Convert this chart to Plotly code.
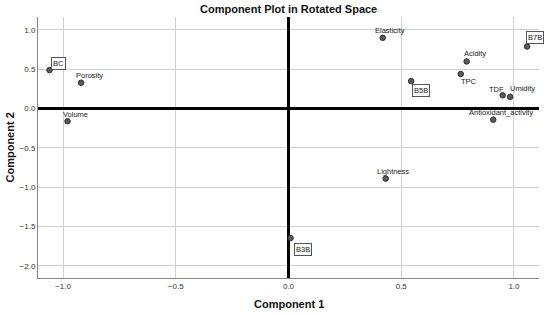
import plotly.graph_objects as go

# ---- data ----
names = ["BC", "Porosity", "Volume", "Elasticity", "B7B", "Acidity", "TPC",
         "B5B", "TDF", "Umidity", "Antioxidant_activity", "Lightness", "B3B"]
comp1 = [-1.06, -0.92, -0.98, 0.418, 1.058, 0.79, 0.764, 0.544, 0.95, 0.983, 0.908, 0.431, 0.009]
comp2 = [0.49, 0.33, -0.16, 0.90, 0.79, 0.60, 0.44, 0.35, 0.17, 0.15, -0.14, -0.89, -1.645]
is_case = [True, False, False, False, True, False, False, True, False, False, False, False, True]
tick_vals_x = [-1.0, -0.5, 0.0, 0.5, 1.0]
tick_vals_y = [1.0, 0.5, 0.0, -0.5, -1.0, -1.5, -2.0]

# label offsets in pixels (styling)
offsets = {
    "BC": (9, 7), "Porosity": (8, 7), "Volume": (8, 7), "Elasticity": (7, 7),
    "B7B": (8, 9), "Acidity": (8, 8), "TPC": (8, -7), "B5B": (10, -9),
    "TDF": (-6, 6), "Umidity": (12, 8), "Antioxidant_activity": (8, 7),
    "Lightness": (7, 7), "B3B": (12, -11),
}

FONT = "Liberation Sans, Arial, sans-serif"

fig = go.Figure()
fig.add_trace(go.Scatter(
    x=comp1, y=comp2, mode="markers",
    marker=dict(size=5.5, color="#5a5a5a", line=dict(color="#2e2e2e", width=1)),
    hoverinfo="text", text=names, showlegend=False, cliponaxis=False,
))

ann = []
for n, x, y, c in zip(names, comp1, comp2, is_case):
    dx, dy = offsets[n]
    a = dict(x=x, y=y, xref="x", yref="y", text=n, showarrow=False,
             xshift=dx, yshift=dy, font=dict(family=FONT, size=7.5, color="#222"))
    if c:
        a.update(bordercolor="#555", borderwidth=1, borderpad=1, bgcolor="white")
    ann.append(a)

# titles
ann.append(dict(text="<b>Component Plot in Rotated Space</b>", xref="paper", yref="paper",
                x=0.5, y=1.0307, xanchor="center", yanchor="middle", showarrow=False,
                font=dict(size=11, family=FONT, color="#111")))
ann.append(dict(text="<b>Component 1</b>", xref="paper", yref="paper",
                x=0.5, y=-0.0996, xanchor="center", yanchor="middle", showarrow=False,
                font=dict(size=11, family=FONT, color="#111")))
ann.append(dict(text="<b>Component 2</b>", xref="paper", yref="paper",
                x=-0.0559, y=0.5, xanchor="center", yanchor="middle", showarrow=False,
                textangle=-90, font=dict(size=11, family=FONT, color="#111")))

fig.update_layout(
    width=550, height=315,
    margin=dict(l=38, r=11, t=17, b=37, autoexpand=False),
    paper_bgcolor="white", plot_bgcolor="white",
    font=dict(family=FONT, color="#222"),
    annotations=ann,
    xaxis=dict(range=[-1.111, 1.111], tickvals=tick_vals_x, tickformat=".1f",
               showgrid=True, gridcolor="#d0d0d0", gridwidth=1,
               zeroline=True, zerolinecolor="black", zerolinewidth=2.5,
               showline=True, linecolor="#888", linewidth=1, mirror=False,
               ticks="", tickfont=dict(size=8, color="#333"), automargin=False),
    yaxis=dict(range=[-2.153, 1.165], tickvals=tick_vals_y, tickformat=".1f",
               showgrid=True, gridcolor="#d0d0d0", gridwidth=1,
               zeroline=True, zerolinecolor="black", zerolinewidth=2.5,
               showline=True, linecolor="#888", linewidth=1, mirror=False,
               ticks="", tickfont=dict(size=8, color="#333"), automargin=False),
)

fig.write_html("out.html", config={"displayModeBar": False},
               post_script="document.body.style.margin='0';document.body.style.overflow='hidden';")
